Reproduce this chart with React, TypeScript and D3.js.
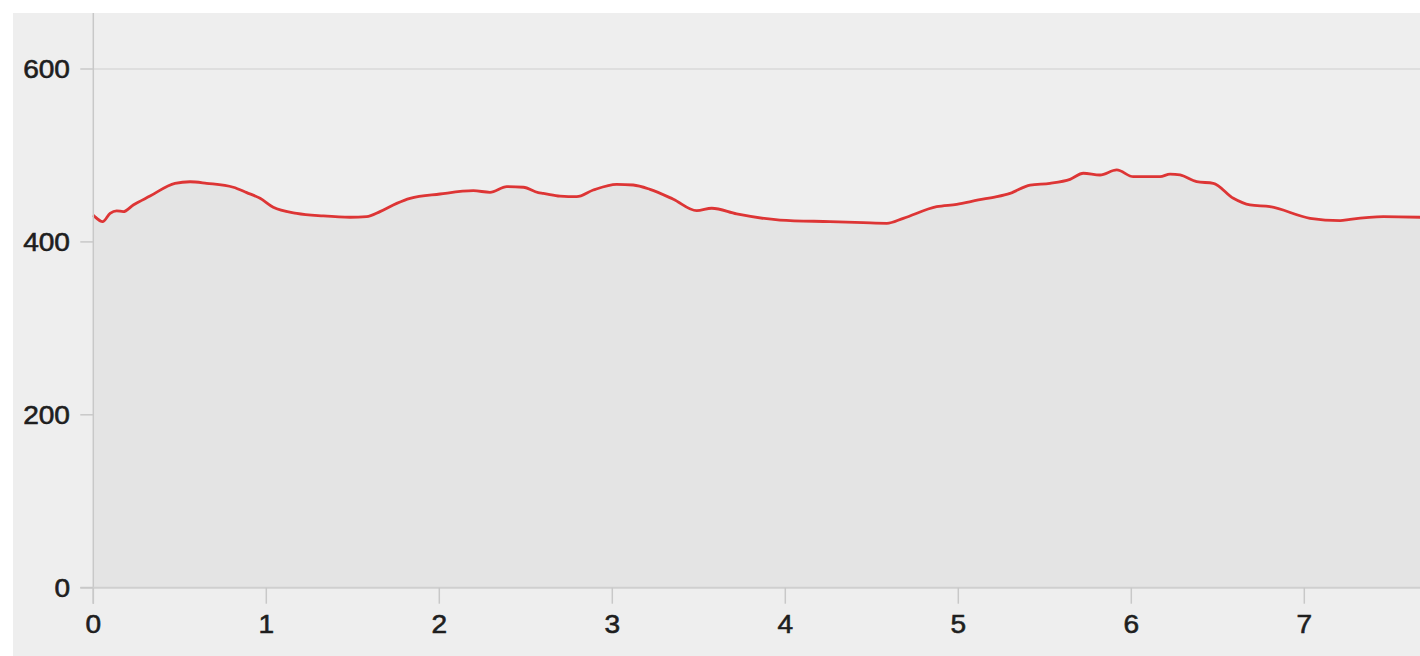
import React from "react";
import * as d3 from "d3";

const distance = [
  0, 0.01, 0.054, 0.097, 0.135, 0.173, 0.231, 0.328, 0.472, 0.559, 0.655, 0.809, 0.887, 0.964,
  1.04, 1.176, 1.329, 1.484, 1.58, 1.657, 1.754, 1.831, 2.004, 2.197, 2.293, 2.39, 2.486, 2.572,
  2.601, 2.698, 2.794, 2.89, 3.025, 3.121, 3.218, 3.353, 3.488, 3.575, 3.719, 3.969, 4.258, 4.451,
  4.587, 4.682, 4.875, 4.991, 5.116, 5.222, 5.299, 5.415, 5.53, 5.646, 5.723, 5.819, 5.916, 6.012,
  6.166, 6.224, 6.282, 6.378, 6.474, 6.59, 6.686, 6.802, 7.033, 7.207, 7.265, 7.457, 7.669,
];
const elevation = [
  431, 429, 423.4, 433, 436, 435, 442.7, 453, 467.8, 469.6, 467.8, 463.2, 457, 450.4,
  440, 433, 430, 428.5, 429.2, 435, 444.6, 450.4, 455.4, 459.2, 457.4, 463.9, 463.2, 457,
  456.2, 453, 452.3, 460, 466.6, 465.8, 460.8, 449.3, 436.1, 438.9, 432.3, 425.3, 423.4, 422.2,
  421.5, 427.3, 440.7, 443.5, 448.5, 452.3, 456.2, 465.8, 467.8, 472.4, 479.4, 477.4, 483.2, 475.4,
  475.4, 478.5, 477.4, 469.6, 467.8, 450.4, 442.7, 440.7, 427.3, 424.5, 426.1, 429.2, 428.5,
];
const xTicks = [0, 1, 2, 3, 4, 5, 6, 7];
const yTicks = [0, 200, 400, 600];
const gridTicks = [600];

const W = 1420;
const H = 656;
const left = 93.3;
const top = 13;
const bottom = 587.7;
const right = 1420;

export default function App() {
  const x = d3.scaleLinear().domain([0, (right - left) / 173])
    .range([left, right]);
  const y = d3.scaleLinear().domain([0, (bottom - top) / 0.8645]).range([bottom, top]);
  const pts: [number, number][] = distance.map((d, i) => [d, elevation[i]]);
  const line = d3.line<[number, number]>().x((d) => x(d[0])).y((d) => y(d[1])).curve(d3.curveMonotoneX);
  const area = d3.area<[number, number]>().x((d) => x(d[0])).y0(y(0)).y1((d) => y(d[1])).curve(d3.curveMonotoneX);
  const font = "'Liberation Sans', Arial, sans-serif";
  const textStyle = { fontFamily: font, fontSize: 26, fill: "#1e1e1e", stroke: "#1e1e1e", strokeWidth: 0.6 };
  return (
    <svg width={W} height={H} style={{ position: "absolute", left: 0, top: 0, display: "block" }}>
      <rect x={0} y={0} width={W} height={H} fill="#ffffff" />
      <rect x={13} y={13} width={W - 13} height={H - 13} fill="#eeeeee" />
      {gridTicks.map((t) => (
        <line key={t} x1={left} x2={right} y1={y(t)} y2={y(t)} stroke="#d9d9d9" strokeWidth={1.5} />
      ))}
      <path d={area(pts) || ""} fill="#e4e4e4" />
      <path d={line(pts) || ""} fill="none" stroke="#dd3535" strokeWidth={2.8} strokeLinejoin="round" />
      <line x1={left} x2={left} y1={top} y2={bottom + 16} stroke="#c8c8c8" strokeWidth={1.5} />
      <line x1={left - 13} x2={right} y1={bottom} y2={bottom} stroke="#cfcfcf" strokeWidth={2} />
      {yTicks.map((t) => (
        <g key={t}>
          <line x1={left - 13} x2={left} y1={y(t)} y2={y(t)} stroke="#c8c8c8" strokeWidth={1.5} />
          <text x={70} y={y(t)} dy="0.35em" textAnchor="end" transform={`translate(70,0) scale(1.08,1) translate(-70,0)`} style={textStyle}>
            {t}
          </text>
        </g>
      ))}
      {xTicks.map((t) => (
        <g key={t}>
          <line x1={x(t)} x2={x(t)} y1={bottom} y2={bottom + 16} stroke="#c8c8c8" strokeWidth={1.5} />
          <text x={x(t)} y={624} dy="0.35em" textAnchor="middle" transform={`translate(${x(t)},0) scale(1.08,1) translate(${-x(t)},0)`} style={textStyle}>
            {t}
          </text>
        </g>
      ))}
    </svg>
  );
}
